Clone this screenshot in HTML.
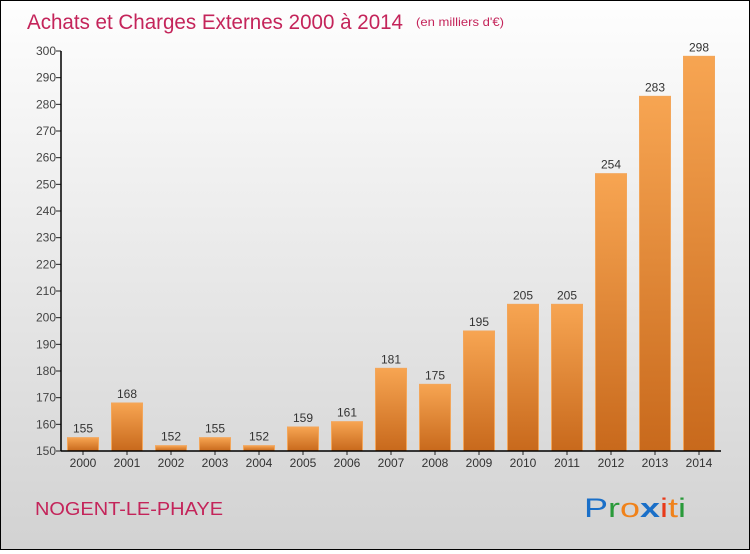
<!DOCTYPE html>
<html><head><meta charset="utf-8"><style>
html,body{margin:0;padding:0}
body{width:750px;height:550px;overflow:hidden;font-family:"Liberation Sans",sans-serif}
#frame{position:absolute;left:0;top:0;width:748px;height:548px;border:1px solid #000;background:linear-gradient(#fefefe,#d2d2d2)}
</style></head><body>
<div id="frame">
<svg id="chart" width="748" height="548" xmlns="http://www.w3.org/2000/svg">
<defs>
<linearGradient id="bg" x1="0" y1="0" x2="0" y2="1">
<stop offset="0" stop-color="#f7a552"/><stop offset="1" stop-color="#c8691c"/>
</linearGradient>
</defs>
<text x="26" y="28" font-size="21" fill="#c4245a" textLength="376" lengthAdjust="spacingAndGlyphs">Achats et Charges Externes 2000 à 2014</text>
<text x="415" y="25" font-size="12" fill="#c4245a" textLength="88" lengthAdjust="spacingAndGlyphs">(en milliers d'€)</text>
<text x="34" y="514" font-size="18" fill="#c4245a" textLength="188" lengthAdjust="spacingAndGlyphs">NOGENT-LE-PHAYE</text>
<g font-size="27" font-family="Liberation Sans, sans-serif">
<text x="583" y="516" textLength="102" lengthAdjust="spacingAndGlyphs"><tspan fill="#1a6fc8">P</tspan><tspan fill="#2a9a3a">r</tspan><tspan fill="#f0821a">o</tspan><tspan fill="#1a6fc8" font-weight="bold">x</tspan><tspan fill="#e83a1a">i</tspan><tspan fill="#f0821a">t</tspan><tspan fill="#2a9a3a">i</tspan></text>
</g>
<g id="plot"></g>
</svg>
</div>
<script>
const categories=["2000","2001","2002","2003","2004","2005","2006","2007","2008","2009","2010","2011","2012","2013","2014"];
const values=[155,168,152,155,152,159,161,181,175,195,205,205,254,283,298];
const yTicks=[150,160,170,180,190,200,210,220,230,240,250,260,270,280,290,300];
const NS="http://www.w3.org/2000/svg";
const g=document.getElementById('plot');
const yMin=150,yMax=300,y0=450,y1=50;
function y(v){return y0-(v-yMin)/(yMax-yMin)*(y0-y1);}
function x(i){return 82+i*44;}
function mk(t,a){const e=document.createElementNS(NS,t);for(const k in a)e.setAttribute(k,a[k]);g.appendChild(e);return e;}
yTicks.forEach(t=>{
  const l=mk('line',{x1:55,x2:60,y1:y(t),y2:y(t),stroke:'#222'});
  
  
  const tx=mk('text',{x:55,y:y(t)+4,'text-anchor':'end','font-size':12,fill:'#444'});
  tx.textContent=t;
  
  
});
categories.forEach((c,i)=>{
  const v=values[i];
  const r=mk('rect',{x:x(i)-15.5,y:y(v),width:31,height:y0-y(v),fill:'url(#bg)',stroke:'#f3a65a','stroke-width':1});
  
  
  const vt=mk('text',{x:x(i),y:y(v)-5,'text-anchor':'middle','font-size':12,fill:'#333'});
  vt.textContent=v;
  
  
  const tk=mk('line',{x1:x(i),x2:x(i),y1:y0,y2:y0+4,stroke:'#222'});
  
  
  const ct=mk('text',{x:x(i),y:y0+16,'text-anchor':'middle','font-size':12,fill:'#333'});
  ct.textContent=c;
  
  
});
const ya=mk('line',{x1:60,x2:60,y1:y1,y2:y0,stroke:'#000','stroke-width':1.5});


const xa=mk('line',{x1:60,x2:720,y1:y0,y2:y0,stroke:'#000','stroke-width':1.5});


</script>
</body></html>
